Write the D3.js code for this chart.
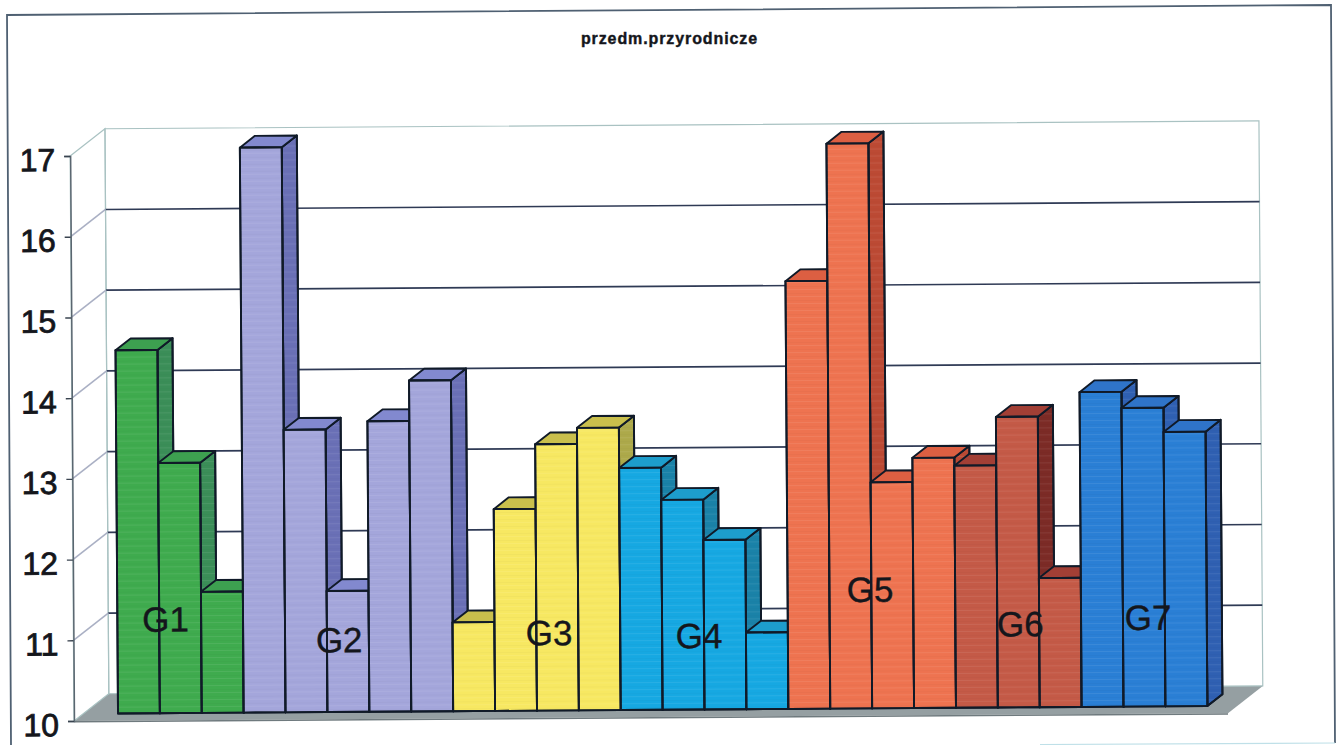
<!DOCTYPE html>
<html>
<head>
<meta charset="utf-8">
<script src="https://d3js.org/d3.v7.min.js"></script>
<style>
html,body{margin:0;padding:0;background:#fff;overflow:hidden}
svg{display:block}
text{font-family:"Liberation Sans",Arial,sans-serif;fill:#14161c}
</style>
</head>
<body>
<svg id="chart" width="1341" height="745"></svg>
<script>
// ---- data ----
const title = "przedm.przyrodnicze";
const groupNames = ["G1","G2","G3","G4","G5","G6","G7"];
const g1 = [14.5,13.1,11.5];
const g2 = [17.0,13.5,11.5,13.6,14.1];
const g3 = [11.1,12.5,13.3,13.5];
const g4 = [13.0,12.6,12.1,10.95];
const g5 = [15.3,17.0,12.8,13.1];
const g6 = [13.0,13.6,11.6];
const g7 = [13.9,13.7,13.4];
const tickValues = [10,11,12,13,14,15,16,17];

// ---- style ----
const frontCol = ["#3FAB4E","#A4A6DB","#F7E862","#16A8E2","#EE7350","#C45A47","#2A7FD5"];
const sideCol  = ["#3B8E58","#6A70B6","#ADA94A","#1A82A8","#BC4A34","#7C2B26","#2F60B2"];
const topCol   = ["#3DA050","#8289CF","#C9BF4C","#1D9DCC","#DC5F42","#A23F35","#2F74C9"];
// where each group's label sits: bar position and height on the value axis
const labelBar = [1.15,5.29,10.3,13.88,17.97,21.55,24.6];
const labelVal = [11.01,10.74,10.81,10.76,11.32,10.88,10.95];

// ---- layout ----
const groups = [g1,g2,g3,g4,g5,g6,g7];
const bars = groups.flatMap((vals,g)=>vals.map(v=>({v,g})));
const svg = d3.select("#chart");

// faint horizontal banding of the printed bars
const pat = svg.append("defs").append("pattern").attr("id","band")
  .attr("width",6).attr("height",7).attr("patternUnits","userSpaceOnUse");
pat.append("rect").attr("width",6).attr("height",1).attr("fill","#fff").attr("opacity",0.08);
pat.append("rect").attr("y",4).attr("width",6).attr("height",1).attr("fill","#000").attr("opacity",0.025);

// scanned page frame
svg.append("path")
  .attr("d","M11,745 L7,15 L1331,5 L1335,743")
  .attr("fill","none").attr("stroke","#4f6072").attr("stroke-width",1.8);
svg.append("path")
  .attr("d","M1335,743 L1040,744.5")
  .attr("fill","none").attr("stroke","#bfe0e8").attr("stroke-width",1.2);

const root = svg.append("g").attr("transform","rotate(-0.39 74 721)");

const y = d3.scaleLinear().domain([10,17]).range([721,156]);
const x = d3.scaleBand().domain(d3.range(bars.length)).range([108.7,1198.1]).padding(0);
const dx = d3.scaleLinear().domain([0,1]).range([0,35]);
const dy = d3.scaleLinear().domain([0,1]).range([0,-27]);
const plotL = 74, plotR = 1228;
const barD0 = 0.267, barD1 = 0.70;
const P = (px,v,d)=>[px+dx(d), y(v)+dy(d)];
const poly = pts=>"M"+pts.map(p=>p.join(",")).join("L")+"Z";

// walls + floor
root.append("path")
  .attr("d",poly([P(plotL,10,0),P(plotL,10,1),P(plotR,10,1),P(plotR,10,0)]))
  .attr("fill","#959fa2").attr("stroke","none");
root.append("path")
  .attr("d",poly([P(plotL,10,0),P(plotR,10,0),[plotR,y(10)+1.5],[plotL,y(10)+1.5]]))
  .attr("fill","#6f7a7e");
root.append("path")
  .attr("d",poly([P(plotL,17,1),P(plotR,17,1),P(plotR,10,1),P(plotL,10,1)]))
  .attr("fill","none").attr("stroke","#a9c2c2").attr("stroke-width",1.2);
root.append("path")
  .attr("d",poly([P(plotL,17,0),P(plotL,17,1),P(plotL,10,1),P(plotL,10,0)]))
  .attr("fill","none").attr("stroke","#a9c2c2").attr("stroke-width",1.2);

// gridlines
const gridVals = tickValues.filter(t=>t>10 && t<17);
root.selectAll(".grid").data(gridVals).join("path").attr("class","grid")
  .attr("d",v=>`M${P(plotL,v,1)}L${P(plotR,v,1)}`)
  .attr("fill","none").attr("stroke","#2f3a55").attr("stroke-width",1.7);
root.selectAll(".gridl").data(gridVals).join("path").attr("class","gridl")
  .attr("d",v=>`M${P(plotL,v,0)}L${P(plotL,v,1)}`)
  .attr("fill","none").attr("stroke","#aab0c4").attr("stroke-width",1.6);

// axis
const axis = d3.axisLeft(y).tickValues(tickValues).tickFormat(d3.format("d")).tickSizeOuter(0).tickSize(6).tickPadding(9);
const ax = root.append("g").attr("transform",`translate(${plotL},0)`).call(axis);
ax.select(".domain").attr("stroke","#5a6670").attr("stroke-width",1.5);
ax.selectAll(".tick line").attr("stroke","#3a4450").attr("stroke-width",1.4);
ax.selectAll(".tick text")
  .attr("font-size",32).attr("dy","0.45em")
  .style("font-family",'"Liberation Sans",Arial,sans-serif')
  .style("fill","#14161c").style("stroke","#14161c").style("stroke-width",0.8);

// bars
const bw = x.bandwidth();
const bg = root.selectAll(".bar").data(bars).join("g").attr("class","bar");
const faces = {
  side:(d,i)=>poly([P(x(i)+bw,d.v,barD0),P(x(i)+bw,d.v,barD1),P(x(i)+bw,10,barD1),P(x(i)+bw,10,barD0)]),
  top:(d,i)=>poly([P(x(i),d.v,barD0),P(x(i),d.v,barD1),P(x(i)+bw,d.v,barD1),P(x(i)+bw,d.v,barD0)]),
  front:(d,i)=>poly([P(x(i),d.v,barD0),P(x(i)+bw,d.v,barD0),P(x(i)+bw,10,barD0),P(x(i),10,barD0)])
};
bg.append("path").attr("d",faces.side).attr("fill",d=>sideCol[d.g]);
bg.append("path").attr("d",faces.side).attr("fill","url(#band)");
bg.append("path").attr("d",faces.top).attr("fill",d=>topCol[d.g]);
bg.append("path").attr("d",faces.front).attr("fill",d=>frontCol[d.g]);
bg.append("path").attr("d",faces.front).attr("fill","url(#band)");
bg.selectAll("path").attr("stroke","#101a28").attr("stroke-width",1.9).attr("stroke-linejoin","round");

// group labels
root.selectAll(".glabel").data(groupNames).join("text").attr("class","glabel")
  .attr("x",(d,i)=>x(0)+dx(barD0)+labelBar[i]*x.step())
  .attr("y",(d,i)=>y(labelVal[i])+dy(barD0))
  .attr("text-anchor","middle").attr("font-size",35)
  .attr("stroke","#14161c").attr("stroke-width",0.4).text(d=>d);

// title
svg.append("text").attr("x",669.5).attr("y",44).attr("text-anchor","middle")
  .attr("font-size",16).attr("font-weight","bold").attr("stroke","#14161c").attr("stroke-width",0.4)
  .attr("letter-spacing",0.9).text(title);
</script>
</body>
</html>
